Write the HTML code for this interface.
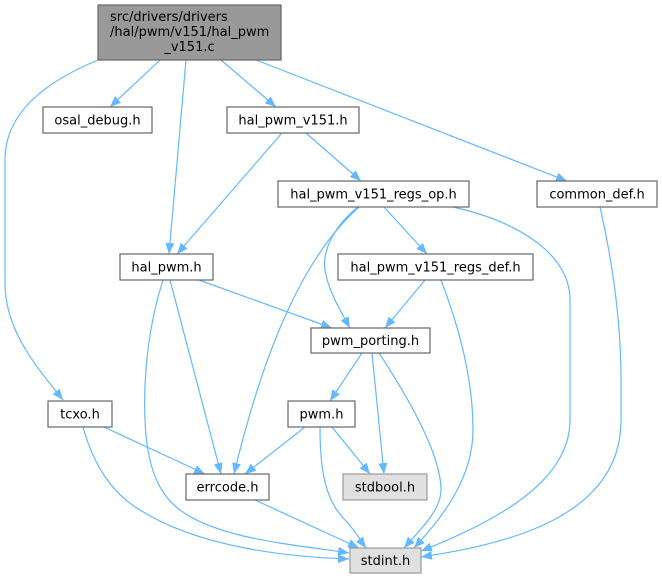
<!DOCTYPE html>
<html><head><meta charset="utf-8"><style>
html,body{margin:0;padding:0;background:#fff;}
svg{display:block;}
text{font-family:"DejaVu Sans","Liberation Sans",sans-serif;font-size:13px;fill:#000;}
.e{fill:none;stroke:#63b8ff;stroke-width:1.2;}
.n{fill:#fff;stroke:#666;stroke-width:1.2;}
.g{fill:#e0e0e0;stroke:#999;stroke-width:1.2;}
</style></head><body>
<svg width="662" height="579" viewBox="0 0 662 579" xmlns="http://www.w3.org/2000/svg">
<defs>
<marker id="a" markerUnits="userSpaceOnUse" markerWidth="12" markerHeight="10" refX="11" refY="4.5" orient="auto">
<path d="M0,0 L11,4.5 L0,9 z" fill="#63b8ff"/>
</marker>
</defs>
<g marker-end="url(#a)">
<path class="e" d="M98,60 C50,80 5,110 5,160 L5,283 C5,330 35,365 63,400"/>
<path class="e" d="M160,60 L110,107"/>
<path class="e" d="M186,60 L169,254"/>
<path class="e" d="M221,60 L276,107"/>
<path class="e" d="M256,60 L567,181"/>
<path class="e" d="M282,133 L177,254"/>
<path class="e" d="M306,133 L361,181"/>
<path class="e" d="M384,207 L427,254"/>
<path class="e" d="M453,207 C520,222 570,255 570,300 L570,420 C570,480 500,520 421,551"/>
<path class="e" d="M359,207 C305,255 265,345 234,474"/>
<path class="e" d="M358,207 C335,225 322,250 325,270 C328,290 340,310 350,328"/>
<path class="e" d="M425,280 L385,328"/>
<path class="e" d="M441,280 C460,330 473,380 473,430 C473,480 440,520 414,548"/>
<path class="e" d="M600,207 C612,260 621,320 621,380 L621,420 C621,520 500,545 421,557"/>
<path class="e" d="M199,280 L332,328"/>
<path class="e" d="M170,280 L221,474"/>
<path class="e" d="M163,280 C150,320 143,370 145,420 C147,470 160,495 180,510 C220,540 300,545 349,553"/>
<path class="e" d="M104,427 L205,474"/>
<path class="e" d="M83,427 C95,470 115,495 140,510 C200,548 290,557 349,559"/>
<path class="e" d="M362,353 L330,401"/>
<path class="e" d="M372,353 L384,474"/>
<path class="e" d="M379,353 C400,385 441,450 441,490 C441,510 420,530 404,548"/>
<path class="e" d="M305,427 L245,474"/>
<path class="e" d="M332,427 L370,474"/>
<path class="e" d="M320,427 C320,470 325,500 345,520 C355,530 360,540 366,548"/>
<path class="e" d="M255,500 L359,548"/>
</g>

<rect x="98" y="5" width="183" height="55" fill="#999" stroke="#666" stroke-width="1.2"/>
<text x="110" y="21">src/drivers/drivers</text>
<text x="110" y="36">/hal/pwm/v151/hal_pwm</text>
<text x="189.5" y="51" text-anchor="middle">_v151.c</text>

<rect class="n" x="43" y="107" width="109" height="26"/>
<text x="97.5" y="124.5" text-anchor="middle">osal_debug.h</text>

<rect class="n" x="227" y="107" width="132" height="26"/>
<text x="293" y="124.5" text-anchor="middle">hal_pwm_v151.h</text>

<rect class="n" x="278" y="181" width="191" height="26"/>
<text x="373.5" y="198.5" text-anchor="middle">hal_pwm_v151_regs_op.h</text>

<rect class="n" x="537" y="181" width="120" height="26"/>
<text x="597" y="198.5" text-anchor="middle">common_def.h</text>

<rect class="n" x="120" y="254" width="93" height="26"/>
<text x="166.5" y="271.5" text-anchor="middle">hal_pwm.h</text>

<rect class="n" x="338" y="254" width="195" height="26"/>
<text x="435.5" y="271.5" text-anchor="middle">hal_pwm_v151_regs_def.h</text>

<rect class="n" x="311" y="328" width="119" height="25"/>
<text x="370.5" y="345" text-anchor="middle">pwm_porting.h</text>

<rect class="n" x="48" y="401" width="64" height="26"/>
<text x="80" y="418.5" text-anchor="middle">tcxo.h</text>

<rect class="n" x="288" y="401" width="67" height="26"/>
<text x="321.5" y="418.5" text-anchor="middle">pwm.h</text>

<rect class="n" x="186" y="474" width="83" height="26"/>
<text x="227.5" y="491.5" text-anchor="middle">errcode.h</text>

<rect class="g" x="343" y="474" width="84" height="26"/>
<text x="385" y="491.5" text-anchor="middle">stdbool.h</text>

<rect class="g" x="350" y="548" width="71" height="25"/>
<text x="385.5" y="565" text-anchor="middle">stdint.h</text>
</svg>
</body></html>
